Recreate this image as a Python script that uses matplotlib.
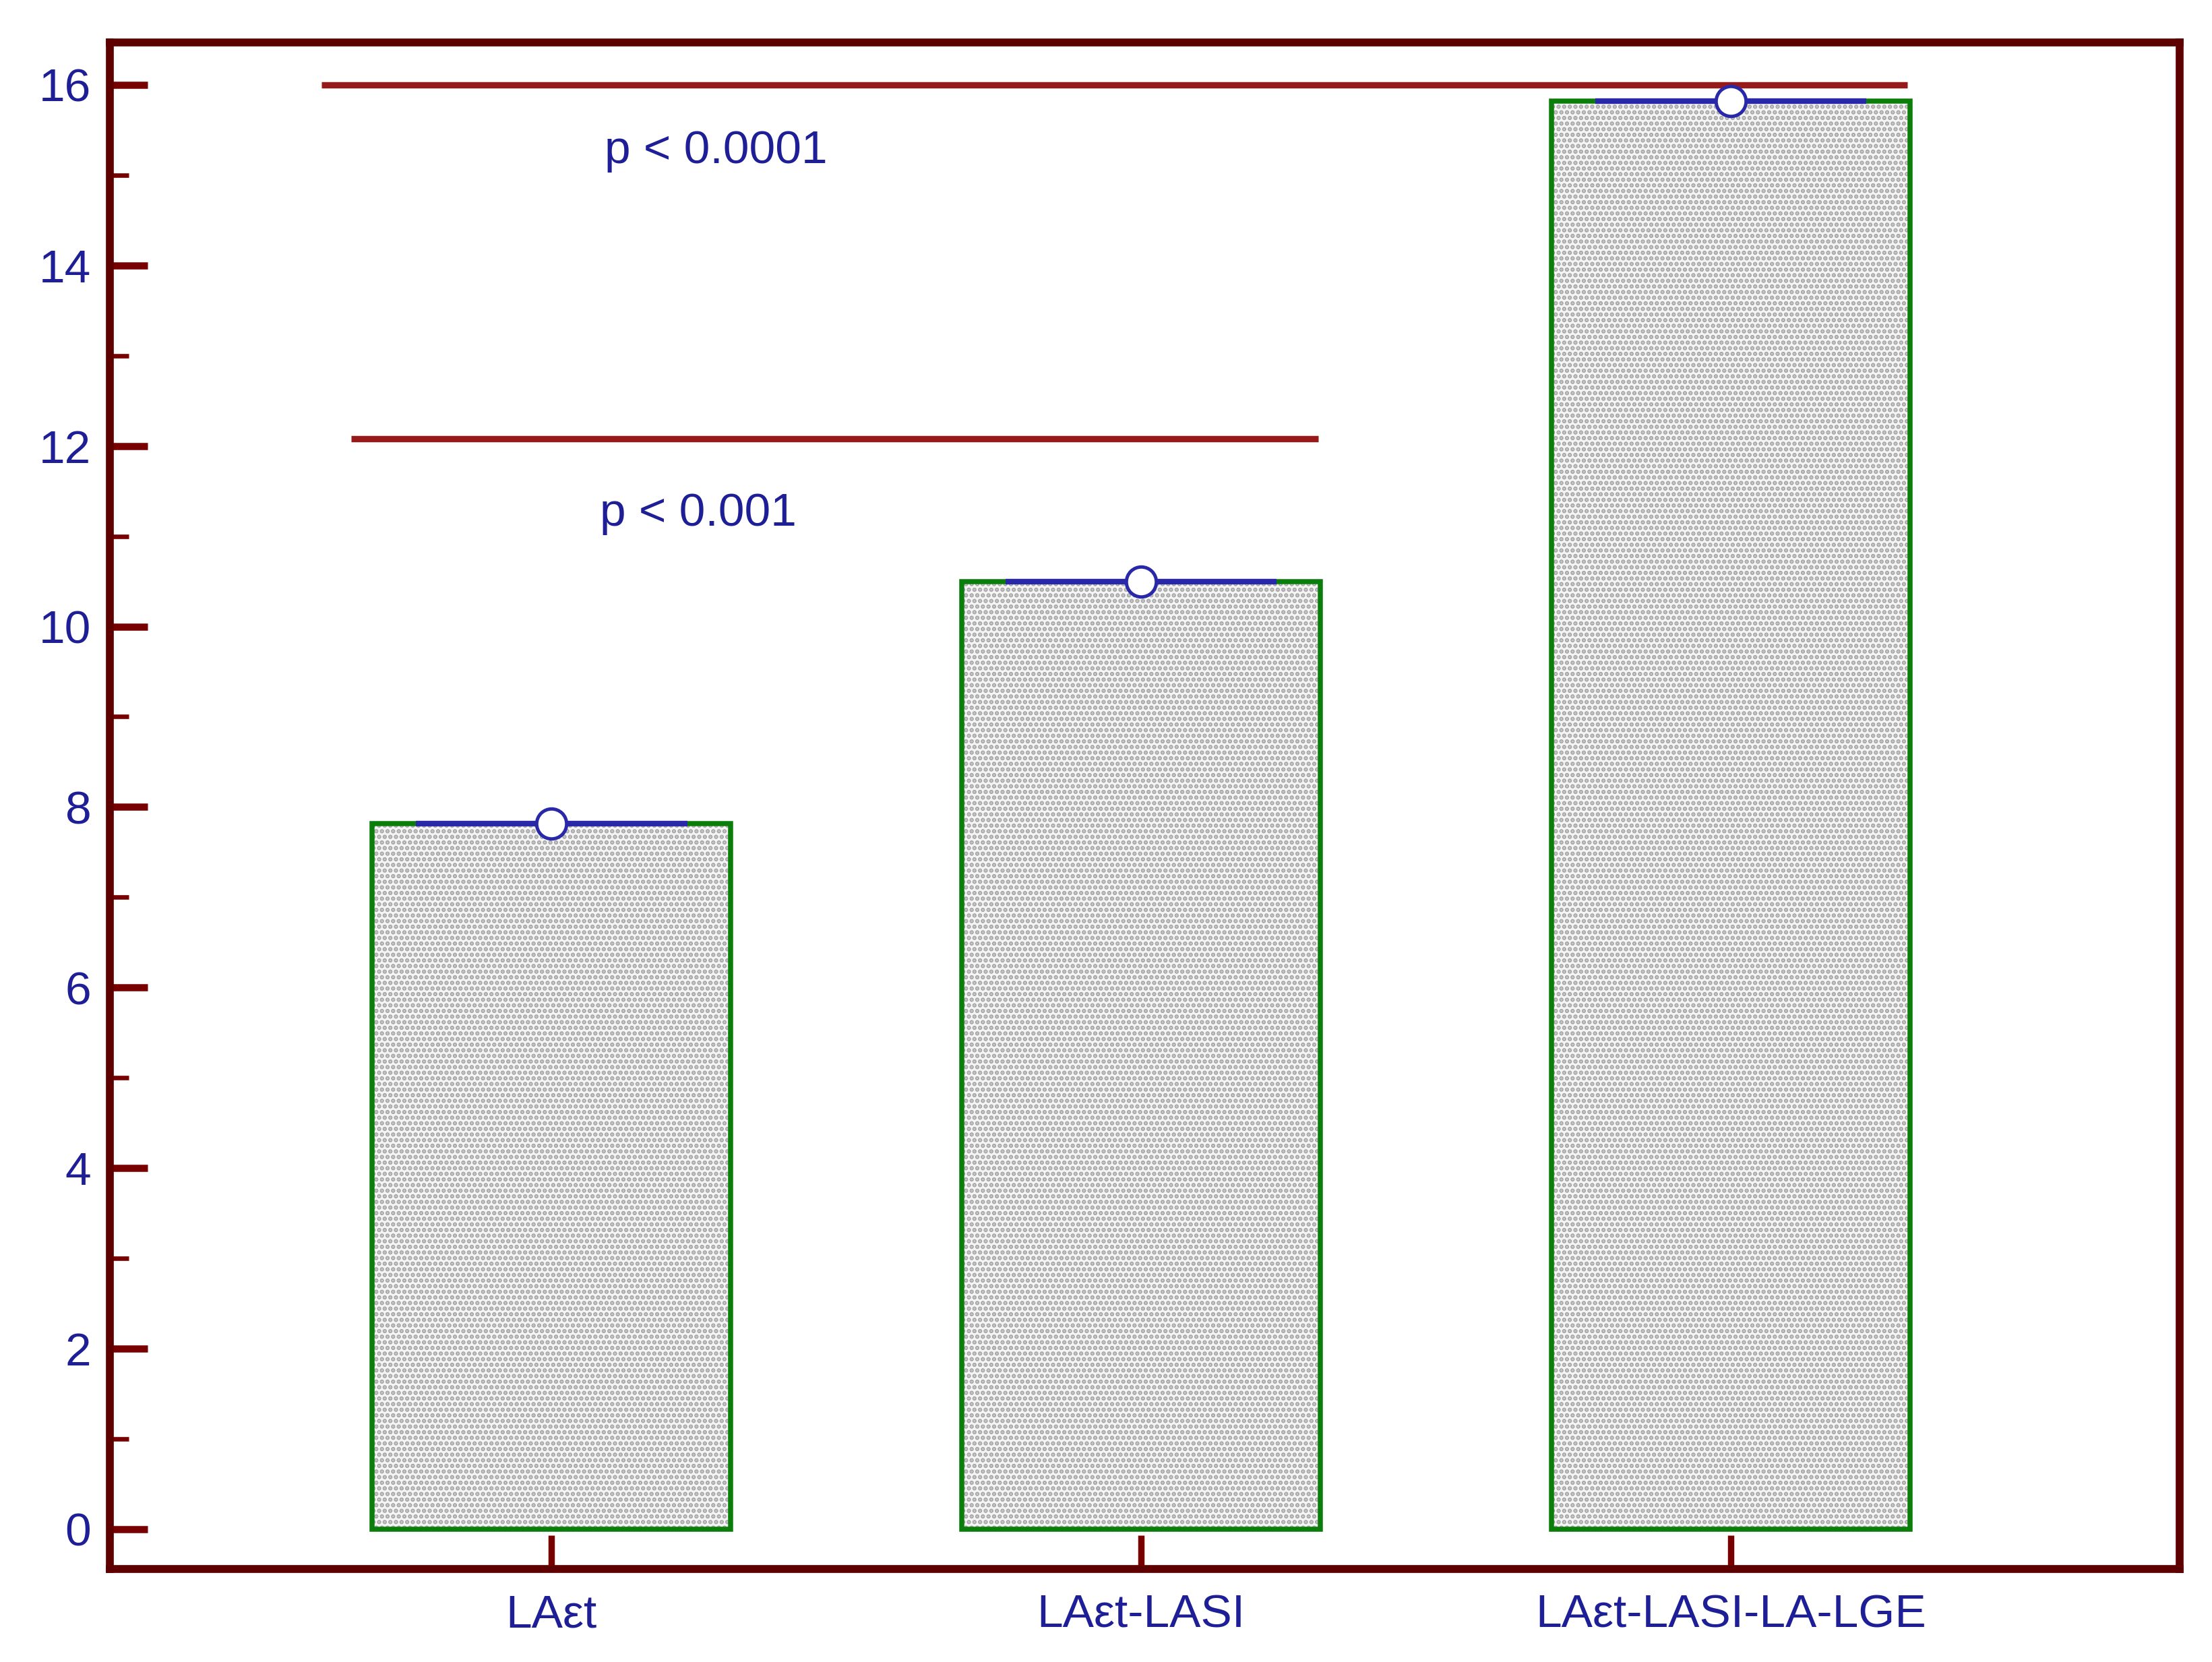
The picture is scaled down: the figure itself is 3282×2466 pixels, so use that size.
import numpy as np
import matplotlib
matplotlib.use("Agg")
import matplotlib.pyplot as plt
from matplotlib.ticker import MultipleLocator

plt.rcParams['font.family'] = ['Liberation Sans', 'DejaVu Sans']
plt.rcParams['hatch.linewidth'] = 1.6

# data
categories = ['LAεt', 'LAεt-LASI', 'LAεt-LASI-LA-LGE']
values = [7.82, 10.5, 15.82]
brackets = [(-0.39, 2.30, 16.0), (-0.34, 1.30, 12.08)]
p_labels = ['p < 0.0001', 'p < 0.001']
p_pos = [(0.09, 15.27), (0.082, 11.25)]

maroon = '#5e0000'
tick_red = '#780000'
line_red = '#961a1a'
navy = '#1e1e96'
green = '#0a7d0a'

fig = plt.figure(figsize=(16.41, 12.33), dpi=200)
ax = fig.add_axes([0.0497, 0.056, 0.9356, 0.9185])

x = np.arange(len(categories))
width = 0.608

# grey dotted fill, then green outline on top
ax.bar(x, values, width=width, color='#f4f4f4', edgecolor='#a4a4a4',
       hatch='....', linewidth=0, zorder=2)
ax.bar(x, values, width=width, fill=False, edgecolor=green,
       linewidth=2.7, zorder=3)

# mean markers
for xi, v in zip(x, values):
    ax.plot([xi - 0.23, xi + 0.23], [v, v], color='#2828a8', lw=3.0,
            zorder=4, solid_capstyle='butt')
ax.plot(x, values, 'o', ms=16, mfc='white', mec='#2828a8', mew=1.8,
        zorder=5, ls='none')

# significance lines
for x0, x1, y in brackets:
    ax.plot([x0, x1], [y, y], color=line_red, lw=3.4, zorder=4,
            solid_capstyle='butt')
for lab, (px, py) in zip(p_labels, p_pos):
    ax.text(px, py, lab, color=navy, fontsize=25, ha='left', va='center')

ax.set_xlim(-0.749, 2.761)
ax.set_ylim(-0.44, 16.47)

ax.set_xticks(x)
ax.set_xticklabels(categories)
ax.yaxis.set_major_locator(MultipleLocator(2))
ax.yaxis.set_minor_locator(MultipleLocator(1))

ax.tick_params(axis='y', which='major', direction='in', length=20, width=3.8,
               color=tick_red, labelcolor=navy, labelsize=25, pad=10)
ax.tick_params(axis='y', which='minor', direction='in', length=10, width=2.4,
               color=tick_red)
ax.tick_params(axis='x', which='major', direction='in', length=18, width=3.4,
               color=tick_red, labelcolor=navy, labelsize=25, pad=13)

for s in ax.spines.values():
    s.set_color(maroon)
    s.set_linewidth(4.2)

fig.savefig('out.png', dpi=200, facecolor='white')
